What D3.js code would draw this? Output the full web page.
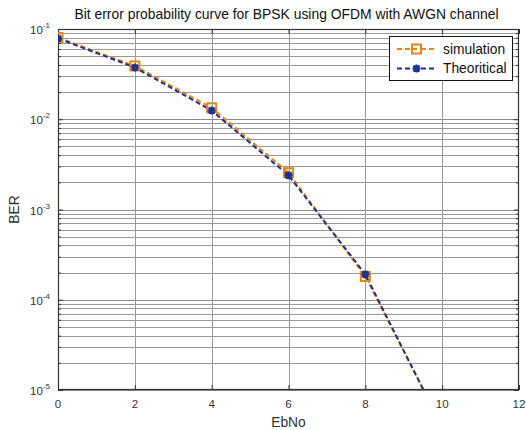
<!DOCTYPE html>
<html>
<head>
<meta charset="utf-8">
<script src="https://cdn.jsdelivr.net/npm/d3@7"></script>
<style>
  html, body { margin: 0; padding: 0; background: #fff; }
  svg { display: block; font-family: "Liberation Sans", Arial, sans-serif; }
</style>
</head>
<body>
<svg id="chart" width="526" height="430"></svg>
<script>
// ---- data ----
const ebno = [0, 2, 4, 6, 8, 10];
const simulation = [0.0805, 0.0390, 0.0134, 0.00256, 0.000181, 0.0000040];
const theoretical = [0.0786, 0.0375, 0.0125, 0.00239, 0.000191, 0.00000387];
const seriesNames = ["simulation", "Theoritical"];
const xTicks = [0, 2, 4, 6, 8, 10, 12];
const yDecades = [-5, -4, -3, -2, -1];
const titleText = "Bit error probability curve for BPSK using OFDM with AWGN channel";
const xLabel = "EbNo";
const yLabel = "BER";

// ---- layout ----
const svg = d3.select("#chart");
const L = 58, R = 519, T = 29, B = 390;
const orange = "#e8870f", blue = "#1f318f";

const x = d3.scaleLinear().domain([0, 12]).range([L, R]);
const y = d3.scaleLog().domain([1e-5, 1e-1]).range([B, T]);

const minorVals = [];
for (let e = -5; e < -1; e++) for (let m = 2; m <= 9; m++) minorVals.push(m * Math.pow(10, e));
const majorVals = yDecades.map(e => Math.pow(10, e));

svg.append("defs").append("clipPath").attr("id", "plotclip")
  .append("rect").attr("x", L).attr("y", T).attr("width", R - L).attr("height", B - T);

const grid = svg.append("g");
grid.selectAll("line.hmin").data(minorVals).join("line")
  .attr("x1", L).attr("x2", R)
  .attr("y1", d => Math.round(y(d)) + 0.5).attr("y2", d => Math.round(y(d)) + 0.5)
  .attr("stroke", "#9a9a9a").attr("stroke-width", 1);
grid.selectAll("line.hmaj").data(majorVals).join("line")
  .attr("x1", L).attr("x2", R)
  .attr("y1", d => Math.round(y(d)) + 0.5).attr("y2", d => Math.round(y(d)) + 0.5)
  .attr("stroke", "#8a8a8a").attr("stroke-width", 1);
grid.selectAll("line.v").data(xTicks.slice(1, -1)).join("line")
  .attr("y1", T).attr("y2", B)
  .attr("x1", d => Math.round(x(d)) + 0.5).attr("x2", d => Math.round(x(d)) + 0.5)
  .attr("stroke", "#9a9a9a").attr("stroke-width", 1);

const fmtNone = () => "";
function styleAxis(g) {
  g.select(".domain").remove();
  g.selectAll("line").attr("stroke", "#333");
}
svg.append("g").attr("transform", `translate(0,${B})`)
  .call(d3.axisBottom(x).tickValues(xTicks).tickSize(-5).tickFormat(fmtNone)).call(styleAxis);
svg.append("g").attr("transform", `translate(0,${T})`)
  .call(d3.axisTop(x).tickValues(xTicks).tickSize(-5).tickFormat(fmtNone)).call(styleAxis);
svg.append("g").attr("transform", `translate(${L},0)`)
  .call(d3.axisLeft(y).tickValues(majorVals).tickSize(-5).tickFormat(fmtNone)).call(styleAxis);
svg.append("g").attr("transform", `translate(${L},0)`)
  .call(d3.axisLeft(y).tickValues(minorVals).tickSize(-3).tickFormat(fmtNone)).call(styleAxis);
svg.append("g").attr("transform", `translate(${R},0)`)
  .call(d3.axisRight(y).tickValues(majorVals).tickSize(-5).tickFormat(fmtNone)).call(styleAxis);
svg.append("g").attr("transform", `translate(${R},0)`)
  .call(d3.axisRight(y).tickValues(minorVals).tickSize(-3).tickFormat(fmtNone)).call(styleAxis);

svg.append("rect").attr("x", L + 0.5).attr("y", T + 0.5)
  .attr("width", R - L - 1).attr("height", B - T - 1)
  .attr("fill", "none").attr("stroke", "#333").attr("stroke-width", 1.2);

// tick labels
svg.append("g").selectAll("text").data(xTicks).join("text")
  .attr("x", d => x(d)).attr("y", 408)
  .attr("text-anchor", "middle").attr("font-size", 11.5).attr("fill", "#333")
  .text(d => d);
const yl = svg.append("g").selectAll("text").data(yDecades).join("text")
  .attr("x", 50).attr("y", d => y(Math.pow(10, d)) + 5)
  .attr("text-anchor", "end").attr("font-size", 11.5).attr("fill", "#333");
yl.append("tspan").text("10");
yl.append("tspan").attr("dy", -6).attr("font-size", 8).text(d => "-" + Math.abs(d));

// title & labels
svg.append("text").attr("x", (L + R) / 2 - 2).attr("y", 18.5)
  .attr("text-anchor", "middle").attr("font-size", 13.9).attr("fill", "#111")
  .text(titleText);
svg.append("text").attr("x", (L + R) / 2).attr("y", 426.5)
  .attr("text-anchor", "middle").attr("font-size", 13.8).attr("fill", "#333")
  .text(xLabel);
svg.append("text").attr("transform", `translate(19,${(T + B) / 2}) rotate(-90)`)
  .attr("text-anchor", "middle").attr("font-size", 13.8).attr("fill", "#333")
  .text(yLabel);

// lines
const plot = svg.append("g").attr("clip-path", "url(#plotclip)");
const line = d3.line().x(d => x(d[0])).y(d => y(d[1]));
const simPts = ebno.map((e, i) => [e, simulation[i]]);
const thPts = ebno.map((e, i) => [e, theoretical[i]]);

plot.append("path").datum(simPts).attr("d", line)
  .attr("fill", "none").attr("stroke", orange).attr("stroke-width", 2)
  .attr("stroke-dasharray", "5,3");
plot.append("path").datum(thPts).attr("d", line)
  .attr("fill", "none").attr("stroke", blue).attr("stroke-width", 2)
  .attr("stroke-dasharray", "5,3");

const inRange = p => p[1] >= 1e-5 && p[1] <= 1e-1;
plot.selectAll("rect.sq").data(simPts.filter(inRange)).join("rect")
  .attr("x", d => x(d[0]) - 4.5).attr("y", d => y(d[1]) - 4.5)
  .attr("width", 9).attr("height", 9)
  .attr("fill", "none").attr("stroke", orange).attr("stroke-width", 2);
const star = "M-4,0L4,0M0,-4L0,4M-3,-3L3,3M-3,3L3,-3";
plot.selectAll("path.st").data(thPts.filter(inRange)).join("path")
  .attr("transform", d => `translate(${x(d[0])},${y(d[1])})`)
  .attr("d", star).attr("stroke", blue).attr("stroke-width", 2.2).attr("fill", "none");

// legend
const lg = svg.append("g");
lg.append("rect").attr("x", 389.5).attr("y", 36.5).attr("width", 123).attr("height", 44)
  .attr("fill", "#fff").attr("stroke", "#111").attr("stroke-width", 1);
const legendItems = [
  { name: seriesNames[0], color: orange, type: "sq", y: 49 },
  { name: seriesNames[1], color: blue, type: "st", y: 68.5 }
];
legendItems.forEach(it => {
  lg.append("line").attr("x1", 397).attr("x2", 436).attr("y1", it.y).attr("y2", it.y)
    .attr("stroke", it.color).attr("stroke-width", 2).attr("stroke-dasharray", "5,3");
  if (it.type === "sq") {
    lg.append("rect").attr("x", 416.5 - 4.5).attr("y", it.y - 4.5).attr("width", 9).attr("height", 9)
      .attr("fill", "#fff").attr("stroke", it.color).attr("stroke-width", 2);
    lg.append("line").attr("x1", 412).attr("x2", 421).attr("y1", it.y).attr("y2", it.y)
      .attr("stroke", it.color).attr("stroke-width", 2).attr("stroke-dasharray", "5,3");
  } else {
    lg.append("path").attr("transform", `translate(416.5,${it.y})`).attr("d", star)
      .attr("stroke", it.color).attr("stroke-width", 2.2);
  }
  lg.append("text").attr("x", 443).attr("y", it.y + 4.5).attr("font-size", 13.8).attr("fill", "#111")
    .text(it.name);
});
</script>
</body>
</html>
